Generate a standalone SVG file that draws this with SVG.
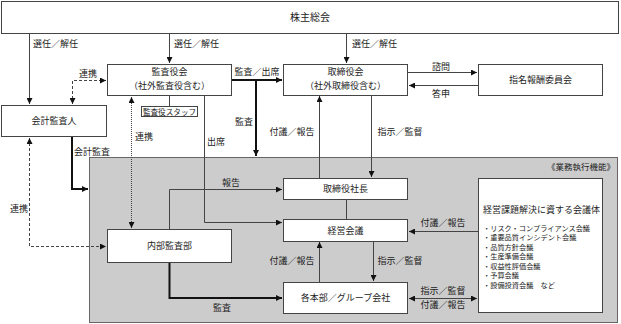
<svg xmlns="http://www.w3.org/2000/svg" width="621" height="324" viewBox="0 0 621 324">
<style>
text{font-family:"Noto Sans CJK JP","Noto Sans",sans-serif;font-size:9px;fill:#222;}
.c{text-anchor:middle;}
.box{fill:#fff;stroke:#444;stroke-width:1;}
.ln{fill:none;stroke:#444;stroke-width:1;}
.thick{fill:none;stroke:#111;stroke-width:2;}
.dash{fill:none;stroke:#444;stroke-width:1;stroke-dasharray:3 2;}
.dot{fill:none;stroke:#444;stroke-width:1;stroke-dasharray:1 1;}
.sm{font-size:7.6px;}
.li{font-size:7.2px;}
</style>
<defs>
<marker id="ah" viewBox="0 0 10 10" refX="10" refY="5" markerWidth="6" markerHeight="6" markerUnits="userSpaceOnUse" orient="auto-start-reverse">
<path d="M0,0 L10,5 L0,10 z" fill="#111"/>
</marker>
</defs>
<rect x="0" y="0" width="621" height="324" fill="#fff"/>
<g id="exec-area">
<rect x="89.5" y="157.5" width="528" height="165" fill="#cccccc" stroke="#666" stroke-width="1"/>
<text x="615" y="170" text-anchor="end" style="font-size:8.5px">《業務執行機能》</text>
</g>
<g id="connectors">
<path class="ln" d="M29.5,34 V104" marker-end="url(#ah)"/>
<path class="ln" d="M169.5,34 V63" marker-end="url(#ah)"/>
<path class="ln" d="M346.5,34 V63" marker-end="url(#ah)"/>
<path class="ln" d="M408,72.5 H477" marker-end="url(#ah)"/>
<path class="ln" d="M478,85.5 H409" marker-end="url(#ah)"/>
<path class="thick" d="M232,80 H282" marker-end="url(#ah)"/>
<path class="thick" d="M256,80 V156" marker-end="url(#ah)"/>
<path class="ln" d="M319.5,178 V96" marker-end="url(#ah)"/>
<path class="ln" d="M371.5,96 V177" marker-end="url(#ah)"/>
<path class="dash" d="M72.5,104 V80.5 H106" marker-start="url(#ah)" marker-end="url(#ah)"/>
<path class="thick" d="M72,137 V189 H88" marker-end="url(#ah)"/>
<path class="dash" d="M29.5,138 V246.5 H106" marker-start="url(#ah)" marker-end="url(#ah)"/>
<path class="dot" d="M131.5,97 V228" marker-start="url(#ah)" marker-end="url(#ah)"/>
<path class="ln" d="M169.5,96 V107"/>
<path class="ln" d="M204.5,96 V222.5 H282" marker-end="url(#ah)"/>
<path class="ln" d="M169.5,229 V189.5 H282" marker-end="url(#ah)"/>
<path class="ln" d="M346.5,200 V219"/>
<path class="ln" d="M319.5,282 V242" marker-end="url(#ah)"/>
<path class="ln" d="M373.5,242 V281" marker-end="url(#ah)"/>
<path class="thick" d="M169.5,263 V298 H282" marker-end="url(#ah)"/>
<path class="ln" d="M478,231.5 H409" marker-end="url(#ah)"/>
<path class="ln" d="M409,298.5 H477" marker-start="url(#ah)" marker-end="url(#ah)"/>
<text x="33" y="47">選任／解任</text>
<text x="174" y="47">選任／解任</text>
<text x="352" y="47">選任／解任</text>
<text class="c" x="441" y="70">諮問</text>
<text class="c" x="441" y="97">答申</text>
<text class="c" x="257" y="75">監査／出席</text>
<text class="c" x="88" y="77">連携</text>
<text class="c" x="244" y="125">監査</text>
<text class="c" x="292" y="135">付議／報告</text>
<text class="c" x="400" y="135">指示／監督</text>
<text class="c" x="144" y="140">連携</text>
<text class="c" x="216" y="145">出席</text>
<text class="c" x="92" y="155">会計監査</text>
<text class="c" x="19" y="212">連携</text>
<text class="c" x="231" y="186">報告</text>
<text class="c" x="443" y="226">付議／報告</text>
<text class="c" x="292" y="264">付議／報告</text>
<text class="c" x="400" y="264">指示／監督</text>
<text class="c" x="443" y="294">指示／監督</text>
<text class="c" x="443" y="308">付議／報告</text>
<text class="c" x="222" y="311">監査</text>
</g>
<g id="shareholders">
<rect class="box" x="1.5" y="1.5" width="617" height="32"/>
<text class="c" x="310" y="21" style="font-size:10px">株主総会</text>
</g>
<g id="audit-board">
<rect class="box" x="107.5" y="64.5" width="124" height="31"/>
<text class="c" x="169.5" y="75">監査役会</text>
<text class="c" x="169.5" y="89">（社外監査役含む）</text>
</g>
<g id="audit-staff">
<rect class="box" x="141.5" y="106.5" width="56" height="10"/>
<text class="c sm" x="169.5" y="114.5">監査役スタッフ</text>
</g>
<g id="board">
<rect class="box" x="283.5" y="64.5" width="124" height="31"/>
<text class="c" x="345.5" y="75">取締役会</text>
<text class="c" x="345.5" y="89">（社外取締役含む）</text>
</g>
<g id="nomination-committee">
<rect class="box" x="478.5" y="64.5" width="124" height="31"/>
<text class="c" x="540.5" y="83">指名報酬委員会</text>
</g>
<g id="accounting-auditor">
<rect class="box" x="1.5" y="105.5" width="105" height="31"/>
<text class="c" x="54" y="124">会計監査人</text>
</g>
<g id="president">
<rect class="box" x="283.5" y="178.5" width="124" height="21"/>
<text class="c" x="345.5" y="192">取締役社長</text>
</g>
<g id="management-meeting">
<rect class="box" x="283.5" y="219.5" width="124" height="22"/>
<text class="c" x="345.5" y="234">経営会議</text>
</g>
<g id="internal-audit">
<rect class="box" x="107.5" y="229.5" width="124" height="33"/>
<text class="c" x="169.5" y="249">内部監査部</text>
</g>
<g id="divisions">
<rect class="box" x="283.5" y="282.5" width="124" height="31"/>
<text class="c" x="345.5" y="301">各本部／グループ会社</text>
</g>
<g id="meeting-bodies">
<rect class="box" x="478.5" y="178.5" width="124" height="134"/>
<text x="483" y="213">経営課題解決に資する会議体</text>
<text class="li" x="483" y="230.5">・リスク・コンプライアンス会議</text>
<text class="li" x="483" y="240">・重要品質インシデント会議</text>
<text class="li" x="483" y="249.5">・品質方針会議</text>
<text class="li" x="483" y="259">・生産準備会議</text>
<text class="li" x="483" y="268.5">・収益性評価会議</text>
<text class="li" x="483" y="278">・予算会議</text>
<text class="li" x="483" y="287.5">・設備投資会議　など</text>
</g>
</svg>
